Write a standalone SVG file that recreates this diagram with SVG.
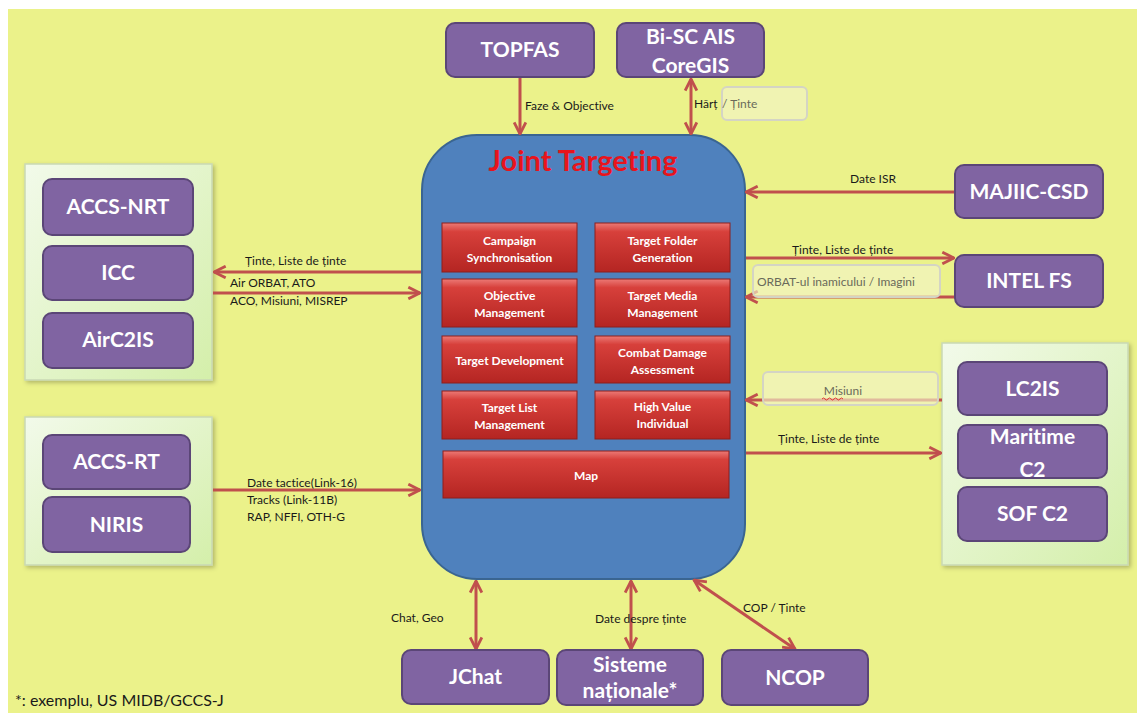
<svg xmlns="http://www.w3.org/2000/svg" width="1137" height="713" viewBox="0 0 1137 713">
<style>
text{font-variant-ligatures:none}
.bg{fill:#ebf28a}
.grp{fill:url(#gGreen);stroke:#c9d9b4;stroke-width:1.5;filter:url(#sh)}
.pb{fill:#8064a2;stroke:#5b4677;stroke-width:2}
.pt{font-family:Lato,"Liberation Sans",sans-serif;font-weight:bold;font-size:21px;fill:#fff;text-anchor:middle}
.rb{fill:url(#gRed);stroke:#8e1f1c;stroke-width:1}
.rt{font-family:Lato,"Liberation Sans",sans-serif;font-weight:bold;font-size:12px;fill:#fff;text-anchor:middle}
.ln{stroke:#c0504d;stroke-width:3;fill:none}
.lb{font-family:Lato,"Liberation Sans",sans-serif;font-size:12px;fill:#1a1a1a}
.gl{font-family:Lato,"Liberation Sans",sans-serif;font-size:12px;fill:#6a6a5a}
.ov{fill:#f2f2c8;fill-opacity:0.65;stroke:#d4d4c4;stroke-width:2}
</style>
<defs>
<linearGradient id="gGreen" x1="0" y1="0" x2="1" y2="1">
<stop offset="0" stop-color="#f2faea"/>
<stop offset="1" stop-color="#d4efaa"/>
</linearGradient>
<linearGradient id="gRed" x1="0" y1="0" x2="0" y2="1">
<stop offset="0" stop-color="#ec7a76"/>
<stop offset="0.18" stop-color="#d7403b"/>
<stop offset="1" stop-color="#b42522"/>
</linearGradient>
<filter id="sh" x="-10%" y="-10%" width="125%" height="125%">
<feDropShadow dx="2" dy="2" stdDeviation="2" flood-color="#000" flood-opacity="0.25"/>
</filter>
<marker id="arr" viewBox="0 0 12 12" refX="11" refY="6" markerWidth="14" markerHeight="14" markerUnits="userSpaceOnUse" orient="auto-start-reverse">
<path d="M1,1 L11,6 L1,11" fill="none" stroke="#c0504d" stroke-width="2.4"/>
</marker>
</defs>

<rect class="bg" x="8" y="9" width="1129" height="704"/>

<g id="containers">
<rect id="grp-left-top" class="grp" x="25" y="164" width="187" height="216"/>
<rect id="grp-left-bottom" class="grp" x="25" y="417" width="187" height="148"/>
<rect id="grp-right" class="grp" x="942" y="343" width="186" height="222"/>
</g>

<g id="joint-targeting">
<rect x="422" y="135" width="323" height="444" rx="55" fill="#4f81bd" stroke="#3a6591" stroke-width="2"/>
<text x="583" y="171" font-family="Lato,'Liberation Sans',sans-serif" font-weight="bold" font-size="29" fill="#e8141c" text-anchor="middle">Joint Targeting</text>
</g>

<g id="campaign-sync"><rect class="rb" x="442" y="223" width="135" height="49"/><text class="rt" x="509.5" y="245">Campaign</text><text class="rt" x="509.5" y="262">Synchronisation</text></g>
<g id="target-folder"><rect class="rb" x="595" y="223" width="135" height="49"/><text class="rt" x="662.5" y="245">Target Folder</text><text class="rt" x="662.5" y="262">Generation</text></g>
<g id="objective-mgmt"><rect class="rb" x="442" y="279" width="135" height="48"/><text class="rt" x="509.5" y="300">Objective</text><text class="rt" x="509.5" y="317">Management</text></g>
<g id="target-media"><rect class="rb" x="595" y="279" width="135" height="48"/><text class="rt" x="662.5" y="300">Target Media</text><text class="rt" x="662.5" y="317">Management</text></g>
<g id="target-dev"><rect class="rb" x="442" y="336" width="135" height="47"/><text class="rt" x="509.5" y="365">Target Development</text></g>
<g id="combat-damage"><rect class="rb" x="595" y="336" width="135" height="47"/><text class="rt" x="662.5" y="357">Combat Damage</text><text class="rt" x="662.5" y="374">Assessment</text></g>
<g id="target-list"><rect class="rb" x="442" y="391" width="135" height="48"/><text class="rt" x="509.5" y="412">Target List</text><text class="rt" x="509.5" y="429">Management</text></g>
<g id="high-value"><rect class="rb" x="595" y="391" width="135" height="48"/><text class="rt" x="662.5" y="411">High Value</text><text class="rt" x="662.5" y="428">Individual</text></g>
<g id="map"><rect class="rb" x="443" y="451" width="286" height="47"/><text class="rt" x="586" y="480">Map</text></g>

<g id="connectors">
<line class="ln" x1="520" y1="78" x2="520" y2="134" marker-end="url(#arr)"/>
<line class="ln" x1="691" y1="79" x2="691" y2="134" marker-start="url(#arr)" marker-end="url(#arr)"/>
<line class="ln" x1="421" y1="272" x2="214" y2="272" marker-end="url(#arr)"/>
<line class="ln" x1="213" y1="293" x2="420" y2="293" marker-end="url(#arr)"/>
<line class="ln" x1="213" y1="490" x2="420" y2="490" marker-end="url(#arr)"/>
<line class="ln" x1="955" y1="192" x2="746" y2="192" marker-end="url(#arr)"/>
<line class="ln" x1="746" y1="258" x2="954" y2="258" marker-end="url(#arr)"/>
<line class="ln" x1="955" y1="297" x2="746" y2="297" marker-end="url(#arr)"/>
<line class="ln" x1="942" y1="400" x2="746" y2="400" marker-end="url(#arr)"/>
<line class="ln" x1="746" y1="453" x2="941" y2="453" marker-end="url(#arr)"/>
<line class="ln" x1="476" y1="581" x2="476" y2="649" marker-start="url(#arr)" marker-end="url(#arr)"/>
<line class="ln" x1="631" y1="581" x2="631" y2="649" marker-start="url(#arr)" marker-end="url(#arr)"/>
<line class="ln" x1="694" y1="580" x2="795" y2="649" marker-start="url(#arr)" marker-end="url(#arr)"/>
</g>

<g id="overlay-boxes">
<rect class="ov" x="722" y="87" width="85" height="33" rx="5"/>
<rect class="ov" x="753" y="265" width="187" height="32" rx="5"/>
<rect class="ov" x="763" y="372" width="175" height="33" rx="5"/>
</g>

<g id="labels">
<text class="lb" x="525" y="110">Faze &amp; Objective</text>
<text class="lb" x="694" y="108">Hărț</text>
<text class="gl" x="722" y="108">/ Ținte</text>
<text class="lb" x="245" y="265">Ținte, Liste de ținte</text>
<text class="lb" x="230" y="287">Air ORBAT, ATO</text>
<text class="lb" x="230" y="305">ACO, Misiuni, MISREP</text>
<text class="lb" x="247" y="487">Date tactice(Link-16)</text>
<text class="lb" x="247" y="504">Tracks (Link-11B)</text>
<text class="lb" x="247" y="521">RAP, NFFI, OTH-G</text>
<text class="lb" x="873" y="183" text-anchor="middle">Date ISR</text>
<text class="lb" x="792" y="254">Ținte, Liste de ținte</text>
<text class="gl" x="757" y="286">ORBAT-ul inamicului / Imagini</text>
<text class="gl" x="843" y="395" text-anchor="middle">Misiuni</text>
<path d="M822,399 q1.5,-2 3,0 t3,0 t3,0 t3,0 t3,0 t3,0 t3,0" fill="none" stroke="#e03030" stroke-width="1"/>
<text class="lb" x="778" y="443">Ținte, Liste de ținte</text>
<text class="lb" x="391" y="622">Chat, Geo</text>
<text class="lb" x="595" y="623">Date despre ținte</text>
<text class="lb" x="743" y="612">COP / Ținte</text>
<text x="15" y="706" font-family="Lato,'Liberation Sans',sans-serif" font-size="16" fill="#1a1a1a">*: exemplu, US MIDB/GCCS-J</text>
</g>

<g id="topfas"><rect class="pb" x="446" y="23" width="148" height="54" rx="9"/><text class="pt" x="520" y="57">TOPFAS</text></g>
<g id="bisc-ais"><rect class="pb" x="617" y="23" width="147" height="54" rx="9"/><text class="pt" x="690.5" y="44">Bi-SC AIS</text><text class="pt" x="690.5" y="73">CoreGIS</text></g>
<g id="majiic"><rect class="pb" x="955" y="165" width="148" height="53" rx="9"/><text class="pt" x="1029" y="199">MAJIIC-CSD</text></g>
<g id="intel-fs"><rect class="pb" x="955" y="255" width="148" height="52" rx="9"/><text class="pt" x="1029" y="288">INTEL FS</text></g>
<g id="lc2is"><rect class="pb" x="958" y="362" width="149" height="53" rx="9"/><text class="pt" x="1032.5" y="396">LC2IS</text></g>
<g id="maritime-c2"><rect class="pb" x="958" y="425" width="149" height="53" rx="9"/><text class="pt" x="1032.5" y="444">Maritime</text><text class="pt" x="1032.5" y="477">C2</text></g>
<g id="sof-c2"><rect class="pb" x="958" y="487" width="149" height="54" rx="9"/><text class="pt" x="1032.5" y="521">SOF C2</text></g>
<g id="accs-nrt"><rect class="pb" x="43" y="179" width="150" height="56" rx="9"/><text class="pt" x="118" y="214">ACCS-NRT</text></g>
<g id="icc"><rect class="pb" x="43" y="246" width="150" height="54" rx="9"/><text class="pt" x="118" y="280">ICC</text></g>
<g id="airc2is"><rect class="pb" x="43" y="313" width="150" height="55" rx="9"/><text class="pt" x="118" y="347">AirC2IS</text></g>
<g id="accs-rt"><rect class="pb" x="43" y="435" width="147" height="54" rx="9"/><text class="pt" x="116.5" y="469">ACCS-RT</text></g>
<g id="niris"><rect class="pb" x="43" y="497" width="147" height="55" rx="9"/><text class="pt" x="116.5" y="532">NIRIS</text></g>
<g id="jchat"><rect class="pb" x="402" y="650" width="147" height="54" rx="9"/><text class="pt" x="475.5" y="684">JChat</text></g>
<g id="sisteme-nationale"><rect class="pb" x="557" y="650" width="146" height="55" rx="9"/><text class="pt" x="630" y="672">Sisteme</text><text class="pt" x="630" y="698">naționale*</text></g>
<g id="ncop"><rect class="pb" x="722" y="650" width="146" height="55" rx="9"/><text class="pt" x="795" y="685">NCOP</text></g>
</svg>
